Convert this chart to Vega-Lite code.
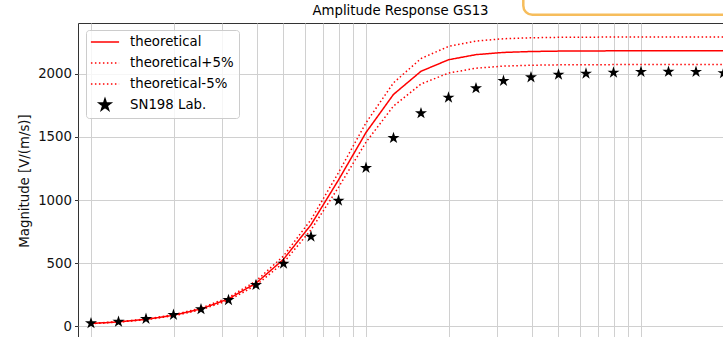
{
  "$schema": "https://vega.github.io/schema/vega-lite/v6.json",
  "width": 645,
  "height": 315,
  "autosize": {"type": "none"},
  "padding": {"left": 78, "top": 23, "right": 0, "bottom": 0},
  "background": "white",
  "title": {"text": "Amplitude Response GS13", "fontSize": 13.3, "font": "DejaVu Sans", "fontWeight": "normal", "color": "#000", "offset": 6, "dy": 64, "anchor": "middle", "frame": "group"},
  "config": {
    "view": {"stroke": "#333", "strokeWidth": 1},
    "font": "DejaVu Sans",
    "axis": {"labelFont": "DejaVu Sans", "titleFont": "DejaVu Sans", "labelFontSize": 13.3, "titleFontSize": 13.3, "titleFontWeight": "normal", "labelColor": "#111", "titleColor": "#111", "tickColor": "#333", "tickSize": 3.5, "labelPadding": 3, "gridColor": "#d0d0d0", "gridWidth": 1, "gridOpacity": 1, "domain": false}
  },
  "datasets": {
    "theory": [
      {"f": 0.1, "theoretical": 21.8, "theoretical+5%": 22.9, "theoretical-5%": 20.7},
      {"f": 0.1259, "theoretical": 34.6, "theoretical+5%": 36.3, "theoretical-5%": 32.9},
      {"f": 0.1585, "theoretical": 54.8, "theoretical+5%": 57.5, "theoretical-5%": 52.1},
      {"f": 0.1995, "theoretical": 86.8, "theoretical+5%": 91.1, "theoretical-5%": 82.5},
      {"f": 0.2512, "theoretical": 137.4, "theoretical+5%": 144.3, "theoretical-5%": 130.5},
      {"f": 0.3162, "theoretical": 217.0, "theoretical+5%": 227.9, "theoretical-5%": 206.2},
      {"f": 0.3981, "theoretical": 341.1, "theoretical+5%": 358.2, "theoretical-5%": 324.0},
      {"f": 0.5012, "theoretical": 530.4, "theoretical+5%": 556.9, "theoretical-5%": 503.9},
      {"f": 0.631, "theoretical": 804.4, "theoretical+5%": 844.6, "theoretical-5%": 764.2},
      {"f": 0.7943, "theoretical": 1159.1, "theoretical+5%": 1217.1, "theoretical-5%": 1101.1},
      {"f": 1.0, "theoretical": 1535.2, "theoretical+5%": 1612.0, "theoretical-5%": 1458.4},
      {"f": 1.2589, "theoretical": 1837.1, "theoretical+5%": 1929.0, "theoretical-5%": 1745.2},
      {"f": 1.5849, "theoretical": 2020.5, "theoretical+5%": 2121.5, "theoretical-5%": 1919.5},
      {"f": 1.9953, "theoretical": 2111.7, "theoretical+5%": 2217.3, "theoretical-5%": 2006.1},
      {"f": 2.5119, "theoretical": 2152.4, "theoretical+5%": 2260.0, "theoretical-5%": 2044.8},
      {"f": 3.1623, "theoretical": 2169.8, "theoretical+5%": 2278.3, "theoretical-5%": 2061.3},
      {"f": 3.9811, "theoretical": 2177.1, "theoretical+5%": 2286.0, "theoretical-5%": 2068.2},
      {"f": 5.0119, "theoretical": 2180.3, "theoretical+5%": 2289.3, "theoretical-5%": 2071.3},
      {"f": 6.3096, "theoretical": 2181.7, "theoretical+5%": 2290.8, "theoretical-5%": 2072.6},
      {"f": 7.9433, "theoretical": 2182.3, "theoretical+5%": 2291.4, "theoretical-5%": 2073.2},
      {"f": 10.0, "theoretical": 2182.7, "theoretical+5%": 2291.8, "theoretical-5%": 2073.6},
      {"f": 12.589, "theoretical": 2182.8, "theoretical+5%": 2291.9, "theoretical-5%": 2073.7},
      {"f": 15.849, "theoretical": 2182.9, "theoretical+5%": 2292.0, "theoretical-5%": 2073.8},
      {"f": 19.953, "theoretical": 2183.0, "theoretical+5%": 2292.2, "theoretical-5%": 2073.9}
    ],
    "lab": [
      {"f": 0.1, "v": 24, "series": "SN198 Lab."},
      {"f": 0.1259, "v": 36, "series": "SN198 Lab."},
      {"f": 0.1585, "v": 58, "series": "SN198 Lab."},
      {"f": 0.1995, "v": 90, "series": "SN198 Lab."},
      {"f": 0.2512, "v": 135, "series": "SN198 Lab."},
      {"f": 0.3162, "v": 208, "series": "SN198 Lab."},
      {"f": 0.3981, "v": 327, "series": "SN198 Lab."},
      {"f": 0.5012, "v": 496, "series": "SN198 Lab."},
      {"f": 0.631, "v": 710, "series": "SN198 Lab."},
      {"f": 0.7943, "v": 995, "series": "SN198 Lab."},
      {"f": 1.0, "v": 1255, "series": "SN198 Lab."},
      {"f": 1.2589, "v": 1492, "series": "SN198 Lab."},
      {"f": 1.5849, "v": 1688, "series": "SN198 Lab."},
      {"f": 1.9953, "v": 1812, "series": "SN198 Lab."},
      {"f": 2.5119, "v": 1886, "series": "SN198 Lab."},
      {"f": 3.1623, "v": 1944, "series": "SN198 Lab."},
      {"f": 3.9811, "v": 1973, "series": "SN198 Lab."},
      {"f": 5.0119, "v": 1994, "series": "SN198 Lab."},
      {"f": 6.3096, "v": 2002, "series": "SN198 Lab."},
      {"f": 7.9433, "v": 2010, "series": "SN198 Lab."},
      {"f": 10.0, "v": 2016, "series": "SN198 Lab."},
      {"f": 12.589, "v": 2017, "series": "SN198 Lab."},
      {"f": 15.849, "v": 2016, "series": "SN198 Lab."},
      {"f": 19.953, "v": 2006, "series": "SN198 Lab."}
    ]
  },
  "layer": [
    {
      "data": {"name": "theory"},
      "transform": [{"fold": ["theoretical", "theoretical+5%", "theoretical-5%"], "as": ["series", "v"]}],
      "mark": {"type": "line", "strokeWidth": 1.5, "clip": true, "strokeCap": "butt"},
      "encoding": {
        "x": {"field": "f", "type": "quantitative", "scale": {"type": "log", "domain": [0.08969, 19.87], "nice": false}, "axis": {"title": null, "grid": true, "values": [0.1, 0.2, 0.3, 0.4, 0.5, 0.6, 0.7, 0.8, 0.9, 1, 2, 3, 4, 5, 6, 7, 8, 9, 10], "labels": false}},
        "y": {"field": "v", "type": "quantitative", "scale": {"domain": [-93, 2403], "nice": false, "zero": false}, "axis": {"title": "Magnitude [V/(m/s)]", "values": [0, 500, 1000, 1500, 2000], "format": "d", "grid": true, "titlePadding": 6}},
        "color": {"field": "series", "type": "nominal", "scale": {"domain": ["theoretical", "theoretical+5%", "theoretical-5%", "SN198 Lab."], "range": ["#ff0000", "#ff0000", "#ff0000", "#000000"]}, "legend": {"orient": "none", "legendX": 8, "legendY": 7, "title": null, "fillColor": "rgba(255,255,255,0.8)", "strokeColor": "#cccccc", "cornerRadius": 3, "padding": 5, "labelFontSize": 13.3, "labelFont": "DejaVu Sans", "labelColor": "#000", "symbolSize": 150, "symbolStrokeWidth": 1.5, "symbolOffset": 7, "labelOffset": 18, "rowPadding": 3, "gridAlign": "all"}},
        "strokeDash": {"field": "series", "type": "nominal", "scale": {"domain": ["theoretical", "theoretical+5%", "theoretical-5%", "SN198 Lab."], "range": [[1, 0], [1.5, 2.5], [1.5, 2.5], [1, 0]]}, "legend": {"orient": "none", "legendX": 8, "legendY": 7, "title": null, "fillColor": "rgba(255,255,255,0.8)", "strokeColor": "#cccccc", "cornerRadius": 3, "padding": 5, "labelFontSize": 13.3, "labelFont": "DejaVu Sans", "labelColor": "#000", "symbolSize": 150, "symbolStrokeWidth": 1.5, "symbolOffset": 7, "labelOffset": 18, "rowPadding": 3, "gridAlign": "all"}}
      }
    },
    {
      "data": {"name": "lab"},
      "mark": {"type": "point", "filled": true, "opacity": 1, "size": 160, "clip": true},
      "encoding": {
        "x": {"field": "f", "type": "quantitative"},
        "y": {"field": "v", "type": "quantitative"},
        "color": {"field": "series", "type": "nominal"},
        "shape": {"field": "series", "type": "nominal", "scale": {"domain": ["theoretical", "theoretical+5%", "theoretical-5%", "SN198 Lab."], "range": ["M-2.3,0H2.3", "M-2.3,0H2.3", "M-2.3,0H2.3", "M0,-1L0.2245,-0.309L0.9511,-0.309L0.3633,0.118L0.5878,0.809L0,0.382L-0.5878,0.809L-0.3633,0.118L-0.9511,-0.309L-0.2245,-0.309Z"]}, "legend": {"orient": "none", "legendX": 8, "legendY": 7, "title": null, "fillColor": "rgba(255,255,255,0.8)", "strokeColor": "#cccccc", "cornerRadius": 3, "padding": 5, "labelFontSize": 13.3, "labelFont": "DejaVu Sans", "labelColor": "#000", "symbolSize": 150, "symbolStrokeWidth": 1.5, "symbolOffset": 7, "labelOffset": 18, "rowPadding": 3, "gridAlign": "all"}}
      }
    },
    {
      "data": {"values": [{}]},
      "mark": {"type": "rect", "fill": null, "filled": false, "stroke": "#f6bd5c", "strokeWidth": 2.5, "cornerRadius": 9, "clip": false},
      "encoding": {
        "x": {"datum": 3.733, "type": "quantitative"},
        "x2": {"datum": 200},
        "y": {"datum": 2469, "type": "quantitative"},
        "y2": {"datum": 2900}
      }
    }
  ]
}
